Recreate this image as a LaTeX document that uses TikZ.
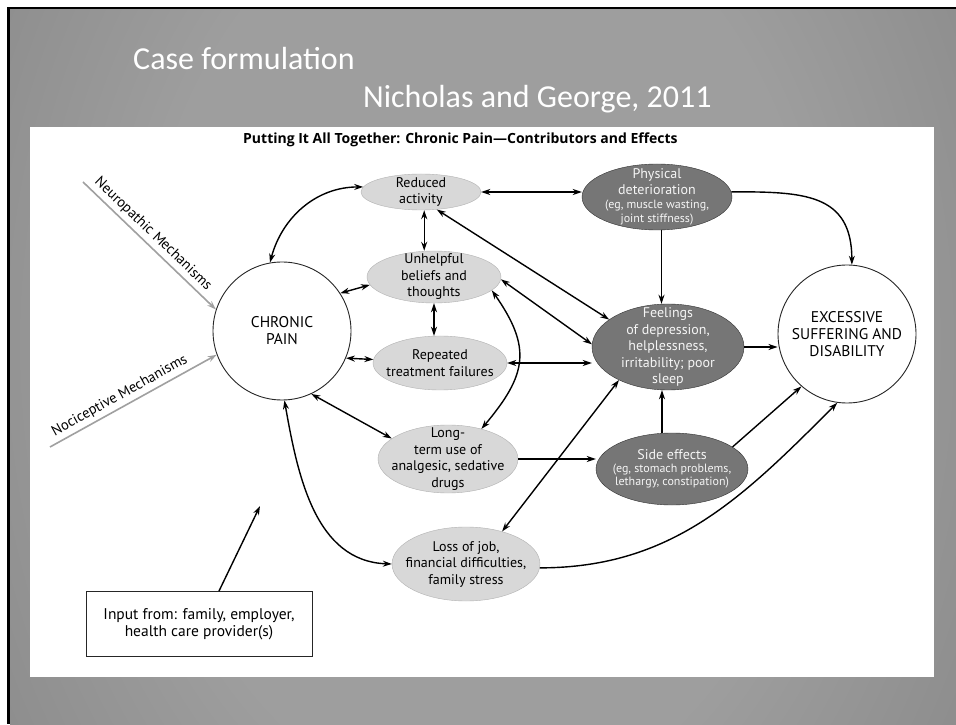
\documentclass[tikz,border=0pt]{standalone}
\usepackage{fontspec}
\setmainfont{PT Sans}
\newfontfamily\slidefont{Carlito}
\newfontfamily\headfont{Open Sans}
\usetikzlibrary{arrows.meta,shapes.geometric}
\definecolor{slidemid}{RGB}{158,158,158}
\definecolor{slideedge}{RGB}{92,92,92}
\definecolor{softfill}{RGB}{216,216,216}
\definecolor{darkfill}{RGB}{118,118,118}
\definecolor{mechgray}{RGB}{160,160,160}
\pgfdeclareradialshading{slide}{\pgfpoint{0bp}{0bp}}{color(0bp)=(slidemid); color(14bp)=(slidemid); color(50bp)=(slideedge)}
\newcommand\egtext[1]{{\fontsize{12}{13.5}\selectfont #1}}

\tikzset{
  soft/.style 2 args={ellipse, draw=gray!60, fill=softfill, minimum width=#1, minimum height=#2, inner sep=0pt},
  dark/.style 2 args={ellipse, draw=black!80, fill=darkfill, minimum width=#1, minimum height=#2, inner sep=0pt},
  txt/.style={align=center, inner sep=0pt, font=\fontsize{14}{16.5}\selectfont},
  lighttxt/.style={txt, text=gray!8},
  ring/.style={circle, draw=black!85, fill=white, line width=0.9pt, minimum size=138pt, inner sep=0pt, align=center, font=\fontsize{15.5}{17}\selectfont},
  inbox/.style={draw=black!85, line width=0.9pt, minimum width=226pt, minimum height=65pt, align=center, font=\fontsize{15.5}{17}\selectfont},
  slidetitle/.style={text=white, inner sep=0pt, font=\slidefont\fontsize{32}{36}\selectfont},
  mech/.style={draw=mechgray, line width=1.6pt, -{Stealth[length=9pt,width=6pt]}},
  mechtxt/.style={inner sep=3.5pt, font=\fontsize{14.5}{16}\selectfont},
  >={Stealth[length=9pt,width=6pt]}
}

\begin{document}
\begin{tikzpicture}[x=1pt,y=1pt]
  \useasboundingbox (0,0) rectangle (956,724);
  % slide background
  \fill[white] (0,0) rectangle (956,724);
  \fill[black] (7,0) rectangle (956,717);
  \begin{scope}
    \clip (10,0) rectangle (956,714);
    \shade[shading=slide] (480,380) ellipse (600 and 820);
  \end{scope}
  \fill[white] (30,47) rectangle (934,597);

  % titles
  \node[slidetitle, anchor=base west] (case) at (133,654) {Case formulation};
  \node[slidetitle, anchor=base west] (auth) at (363,616) {Nicholas and George, 2011};
  \node[anchor=base west, inner sep=0pt, font=\headfont\bfseries\fontsize{14}{16}\selectfont] (head) at (243,580)
    {Putting It All Together: Chronic Pain—Contributors and Effects};

  % nodes
  \node[ring] (pain) at (282,393) {CHRONIC\\PAIN};
  \node[ring] (excess) at (847,390) {EXCESSIVE\\SUFFERING AND\\DISABILITY};
  \node[soft={120pt}{36pt}, label={[txt]center:{Reduced\\activity}}] (red) at (421,532) {};
  \node[soft={134pt}{52pt}, label={[txt]center:{Unhelpful\\beliefs and\\thoughts}}] (unh) at (434,447) {};
  \node[soft={134pt}{54pt}, label={[txt]center:{Repeated\\treatment failures}}] (rep) at (440,361) {};
  \node[soft={140pt}{68pt}, label={[txt]center:{Long-\\term use of\\analgesic, sedative\\drugs}}] (lng) at (448,265) {};
  \node[soft={148pt}{74pt}, label={[txt]center:{Loss of job,\\financial difficulties,\\family stress}}] (loss) at (466,160) {};
  \node[dark={150pt}{66pt}, label={[lighttxt]center:{Physical\\[-0.5pt]deterioration\\[-2.5pt]\egtext{(eg, muscle wasting,}\\[-2.5pt]\egtext{joint stiffness)}}}] (phys) at (657,527) {};
  \node[dark={152pt}{86pt}, label={[lighttxt]center:{Feelings\\of depression,\\helplessness,\\irritability; poor\\sleep}}] (feel) at (668,377) {};
  \node[dark={152pt}{72pt}, label={[lighttxt]center:{Side effects\\[-3.5pt]\egtext{(eg, stomach problems,}\\[-4pt]\egtext{lethargy, constipation)}}}] (side) at (672,255) {};
  \node[inbox] (inp) at (199,100) {Input from: family, employer,\\health care provider(s)};

  % mechanisms
  \coordinate (neu) at (83,542);
  \coordinate (noc) at (50,277);
  \coordinate (inptip) at (260,218);
  \draw[mech] (neu) -- node[mechtxt, pos=0.47, above, sloped] {Neuropathic Mechanisms} (pain.162);
  \draw[mech] (noc) -- node[mechtxt, pos=0.45, above, sloped] {Nociceptive Mechanisms} (pain.200);

  % two-way links
  \begin{scope}[line width=1.4pt, <->]
    \draw (pain.100) to[out=75,in=180] (red.175);
    \draw (pain.33) -- (unh.187);
    \draw (pain.-23) -- (rep.177);
    \draw (pain.-65) -- (lng.160);
    \draw (pain.-88) to[out=-80,in=178] (loss.180);
    \draw (red.-80) -- (red.-80 |- unh.north);
    \draw (unh.south) -- (unh.south |- rep.north);
    \draw (red.east) -- (red.east -| phys.west);
    \draw (red.-48) -- (feel.155);
    \draw (unh.-2) -- (feel.178);
    \draw (rep.east) -- (rep.east -| feel.west);
    \draw (unh.-13) to[out=-55,in=50,looseness=1.3] (lng.42);
    \draw (loss.42) -- (feel.214);
  \end{scope}

  % one-way links
  \begin{scope}[line width=1.4pt, ->]
    \draw ([xshift=4.5pt]phys.south) -- ([xshift=4.5pt]phys.south |- feel.north);
    \draw (phys.4) to[out=0,in=90,looseness=1.3] (excess.86);
    \draw (feel.east) -- (feel.east -| excess.west);
    \draw (lng.east) -- (lng.east -| side.west);
    \draw ([xshift=-10pt]side.north) -- ([xshift=-10pt]side.north |- feel.south);
    \draw (side.20) -- (excess.229);
    \draw (loss.-3) to[out=0,in=225] (excess.262);
    \draw ([xshift=20pt]inp.north) -- (inptip);
  \end{scope}
\end{tikzpicture}
\end{document}
